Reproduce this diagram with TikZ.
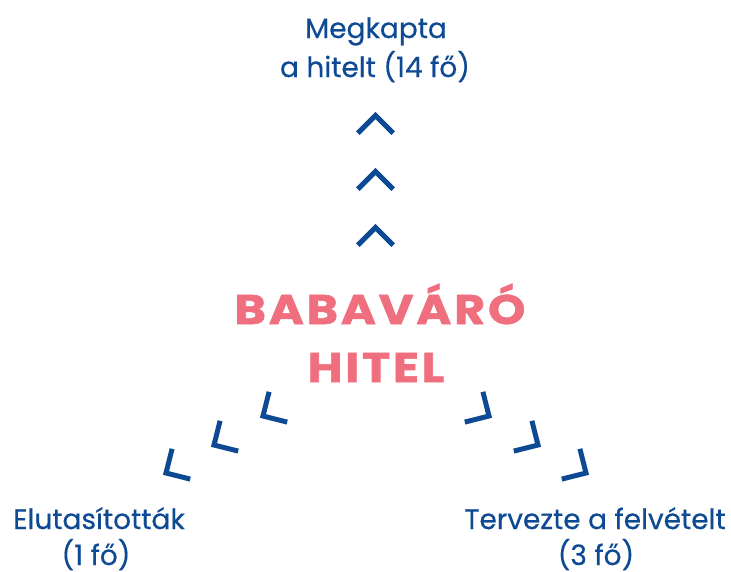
\documentclass[tikz,border=0pt]{standalone}
\usepackage{fontspec}
\setmainfont{Poppins}
\definecolor{navy}{HTML}{0E4A94}
\definecolor{rose}{HTML}{EF6F7F}
\newcommand{\widetitle}[1]{\scalebox{1.15}[1]{#1}}
\tikzset{
  chev/.style={draw=navy, line width=3.75pt, line join=miter, line cap=butt},
  lbl/.style={anchor=base, text=navy, inner sep=0pt, font=\fontsize{21}{25}\selectfont\addfontfeatures{FakeBold=0.4}},
  title/.style={anchor=base, text=rose, inner sep=0pt, font=\fontsize{31}{36}\selectfont\bfseries\addfontfeatures{LetterSpace=6,FakeBold=1.4}}
}
\begin{document}
\begin{tikzpicture}[x=0.75pt, y=-0.75pt]
\useasboundingbox (0,0) rectangle (731,571);
% labels
\node[lbl] (top1) at (376,38) {Megkapta};
\node[lbl] (top2) at (375,77) {a hitelt (14 fő)};
\node[lbl] (left1) at (99,529) {Elutasították};
\node[lbl] (left2) at (96,565) {(1 fő)};
\node[lbl] (right1) at (595,529) {Tervezte a felvételt};
\node[lbl] (right2) at (596,565) {(3 fő)};
\node[title] (t1) at (380,324) {\widetitle{BABAVÁRÓ}};
\node[title] (t2) at (376,382) {\widetitle{HITEL}};
% up chevrons
\draw[chev] (357.8,133.2) -- (375.5,115.5) -- (393.2,133.2);
\draw[chev] (357.8,189.2) -- (375.5,171.5) -- (393.2,189.2);
\draw[chev] (357.8,245.2) -- (375.5,227.5) -- (393.2,245.2);
% left chevrons
\draw[chev] (269.1,391.8) -- (263,416) -- (287.2,422.1);
\draw[chev] (220.1,420.8) -- (214,445) -- (238.2,451.1);
\draw[chev] (172.1,448.8) -- (166,473) -- (190.2,479.1);
% right chevrons
\draw[chev] (482.9,391.8) -- (489,416) -- (464.8,422.1);
\draw[chev] (531.9,420.8) -- (538,445) -- (513.8,451.1);
\draw[chev] (579.9,448.8) -- (586,473) -- (561.8,479.1);
\end{tikzpicture}
\end{document}
